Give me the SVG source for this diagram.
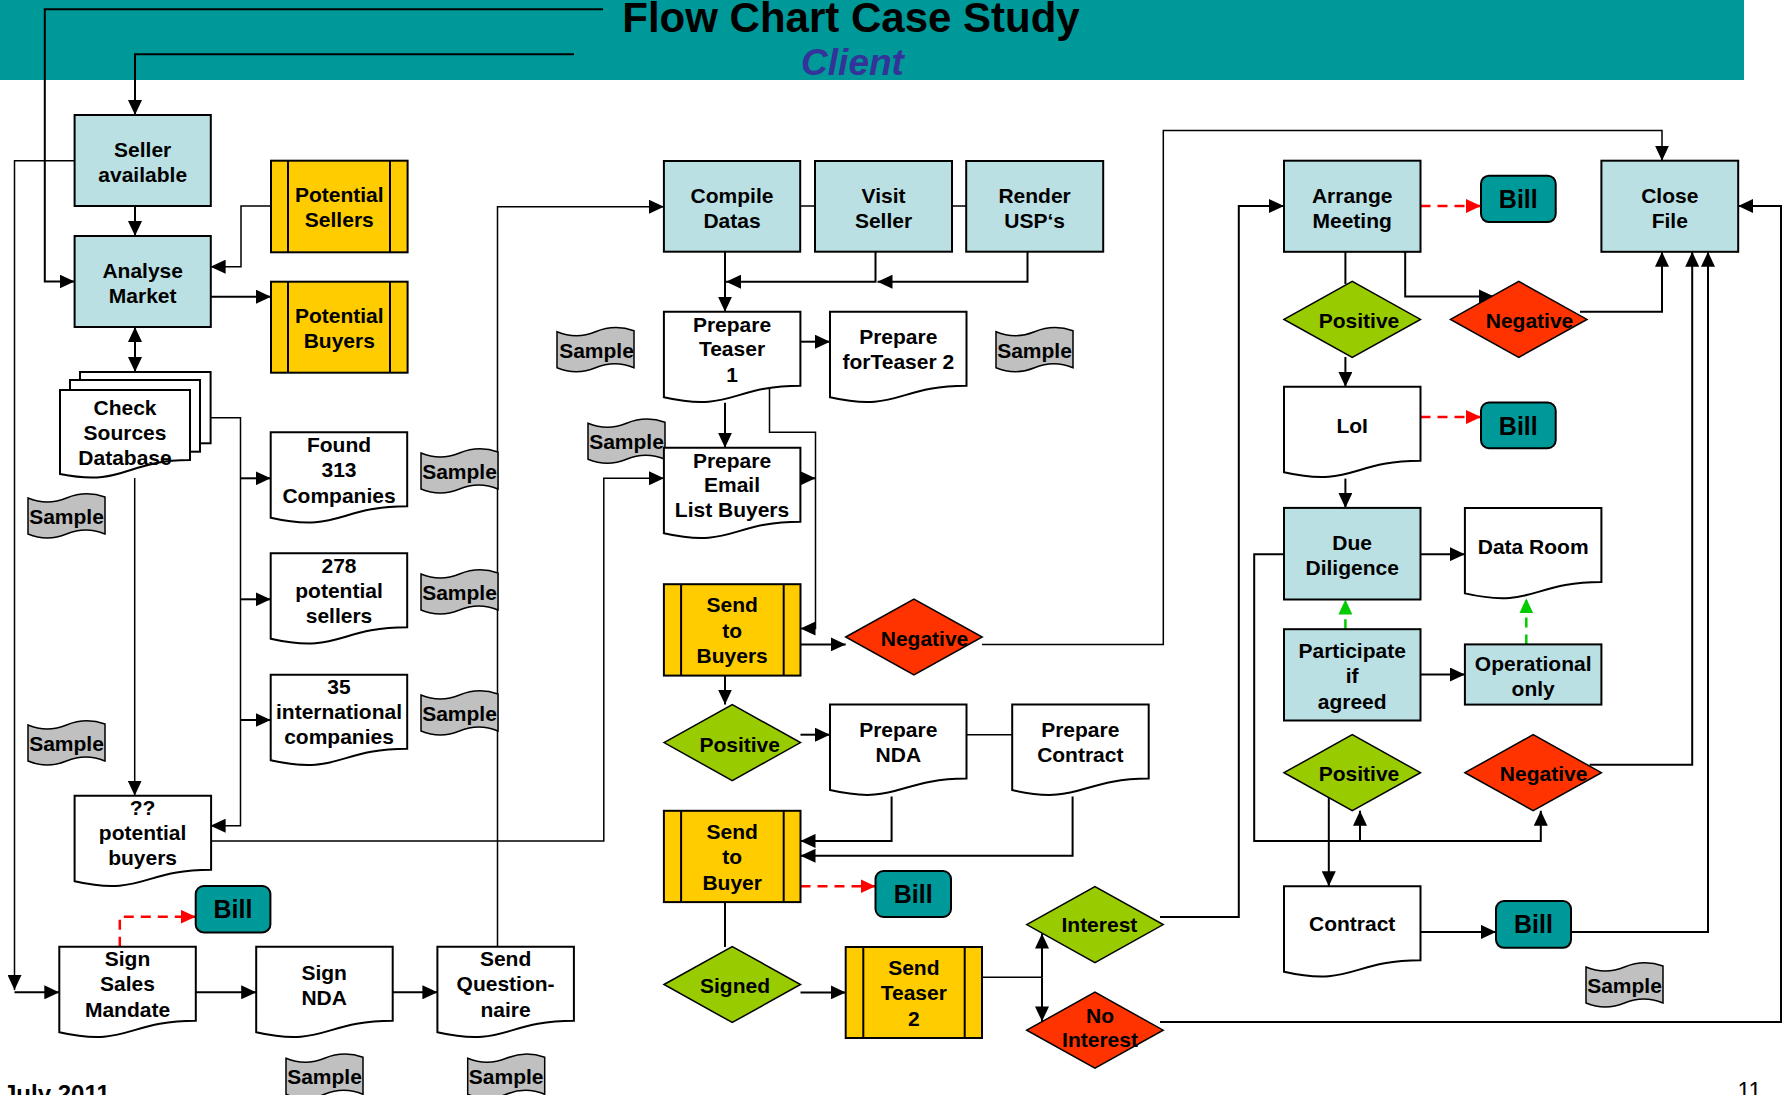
<svg xmlns="http://www.w3.org/2000/svg" width="1783" height="1095" viewBox="0 0 1783 1095">
<style>
.blue{fill:#BBE0E3;stroke:#000;stroke-width:2}
.yel{fill:#FFCC00;stroke:#000;stroke-width:2}
.doc{fill:#fff;stroke:#000;stroke-width:2}
.grn{fill:#99CC00;stroke:#000;stroke-width:1.5}
.red{fill:#FF3300;stroke:#000;stroke-width:1.5}
.bill{fill:#009999;stroke:#000;stroke-width:2}
.tape{fill:#C0C0C0;stroke:#000;stroke-width:1.5}
.ln{fill:none;stroke:#000;stroke-width:2}
text{font-family:"Liberation Sans",Arial,sans-serif;font-weight:bold;font-size:21px;text-anchor:middle;fill:#000}
.bt{font-size:25px}
.c{fill:none;stroke:#000;stroke-width:2}
.c1{fill:none;stroke:#000;stroke-width:1.5}
.cd{fill:none;stroke:#FF0000;stroke-width:2.5;stroke-dasharray:10 7}
.cg{fill:none;stroke:#00CC00;stroke-width:2.5;stroke-dasharray:10 7}
</style>
<defs>
<path id="doc" d="M0,0 H136.5 V74 C68,74 68,101 0,85.5 Z"/>
<path id="tape" d="M0,5 Q19.25,13 38.5,5 T77,4 V41 Q57.75,33 38.5,41 T0,41 Z"/>
<path id="dia" d="M0,38 L68.25,0 L136.5,38 L68.25,76 Z"/>
<marker id="a" viewBox="0 0 15 14" refX="15" refY="7" markerWidth="15" markerHeight="14" markerUnits="userSpaceOnUse" orient="auto-start-reverse"><path d="M0,0 L15,7 L0,14 Z" fill="#000"/></marker>
<marker id="ar" viewBox="0 0 15 14" refX="15" refY="7" markerWidth="15" markerHeight="14" markerUnits="userSpaceOnUse" orient="auto"><path d="M0,0 L15,7 L0,14 Z" fill="#FF0000"/></marker>
<marker id="ag" viewBox="0 0 15 14" refX="15" refY="7" markerWidth="15" markerHeight="14" markerUnits="userSpaceOnUse" orient="auto"><path d="M0,0 L15,7 L0,14 Z" fill="#00CC00"/></marker>
</defs>

<rect width="1783" height="1095" fill="#fff"/>
<g id="header">
<rect x="0" y="0" width="1744" height="80" fill="#009999"/>
<text x="851" y="31.5" style="font-size:42px">Flow Chart Case Study</text>
<text x="852.5" y="75" style="font-size:37px;font-style:italic;fill:#333399">Client</text>
</g>

<g id="connectors">
<path class="c" d="M603,9.3 H44.8 V281.5 H74.6" marker-end="url(#a)"/>
<path class="c" d="M574,54.3 H135 V115" marker-end="url(#a)"/>
<path class="c" d="M135,206 V236" marker-end="url(#a)"/>
<path class="c1" d="M74.6,160.7 H14.5 V990" marker-end="url(#a)"/>
<path class="c" d="M14.5,992.3 H59.3" marker-end="url(#a)"/>
<path class="c1" d="M271,206 H241 V266.7 H210.6" marker-end="url(#a)"/>
<path class="c" d="M210.6,296.7 H271" marker-end="url(#a)"/>
<path class="c" d="M135,327 V372" marker-start="url(#a)" marker-end="url(#a)"/>
<path class="c1" d="M210.6,417.7 H240.5 V825.7 H210.6" marker-end="url(#a)"/>
<path class="c" d="M240.5,478.3 H270.7" marker-end="url(#a)"/>
<path class="c" d="M240.5,599.3 H270.7" marker-end="url(#a)"/>
<path class="c" d="M240.5,720 H270.7" marker-end="url(#a)"/>
<path class="c1" d="M134.7,478 V795.7" marker-end="url(#a)"/>
<path class="c1" d="M210.6,841 H603.8 V478.3 H663.9" marker-end="url(#a)"/>
<path class="c" d="M195.7,992.3 H256.2" marker-end="url(#a)"/>
<path class="c" d="M392.2,992.3 H437.4" marker-end="url(#a)"/>
<path class="c1" d="M497.5,946.7 V206.7 H663.9" marker-end="url(#a)"/>
<path class="cd" d="M119.8,946.7 V916.7 H195.7" marker-end="url(#ar)"/>
<path class="c" d="M725,251.7 V311.7" marker-end="url(#a)"/>
<path class="c" d="M875.5,251.7 V281.7 H726" marker-end="url(#a)"/>
<path class="c" d="M1027.5,251.7 V281.7 H877.5" marker-end="url(#a)"/>
<path class="c1" d="M800.2,206 H815 M952,206 H966.2"/>
<path class="c" d="M800.2,341.7 H830" marker-end="url(#a)"/>
<path class="c" d="M725,402.7 V447.7" marker-end="url(#a)"/>
<path class="c1" d="M769.5,387 V432.3 H815.5 V628.5 H800.5" marker-end="url(#a)"/>
<path class="c" d="M800.2,478.3 H815.5" marker-end="url(#a)"/>
<path class="c" d="M800.5,644.4 H845.7" marker-end="url(#a)"/>
<path class="c1" d="M982,644.4 H1163.3 V130.4 H1662 V160.7" marker-end="url(#a)"/>
<path class="c" d="M725,675.6 V704.6" marker-end="url(#a)"/>
<path class="c" d="M800.5,734.7 H830" marker-end="url(#a)"/>
<path class="c1" d="M966.6,734.7 H1012.2"/>
<path class="c" d="M891.6,796.6 V840.9 H800.5" marker-end="url(#a)"/>
<path class="c" d="M1072.6,796.6 V855.8 H800.5" marker-end="url(#a)"/>
<path class="cd" d="M800.5,886.2 H875.5" marker-end="url(#ar)"/>
<path class="c" d="M725,902.1 V947"/>
<path class="c" d="M800.5,992.4 H845.7" marker-end="url(#a)"/>
<path class="c1" d="M982,977.2 H1042"/>
<path class="c" d="M1042,977.2 V933.6" marker-end="url(#a)"/>
<path class="c" d="M1042,977.2 V1021.4" marker-end="url(#a)"/>
<path class="c" d="M1160,917 H1238.8 V206 H1284" marker-end="url(#a)"/>
<path class="c" d="M1160,1022 H1781 V206 H1738.2" marker-end="url(#a)"/>
<path class="cd" d="M1420.5,206 H1481" marker-end="url(#ar)"/>
<path class="c" d="M1345.4,251.8 V284"/>
<path class="c" d="M1405.2,251.8 V296.4 H1494" marker-end="url(#a)"/>
<path class="c" d="M1580,311.8 H1662 V251.8" marker-end="url(#a)"/>
<path class="c" d="M1345.4,357 V386.8" marker-end="url(#a)"/>
<path class="cd" d="M1420.5,417.1 H1481" marker-end="url(#ar)"/>
<path class="c" d="M1345.4,478.6 V507.9" marker-end="url(#a)"/>
<path class="c" d="M1420.5,554.2 H1464.9" marker-end="url(#a)"/>
<path class="c" d="M1284,554.2 H1254.2 V840.9 H1540.8 V810.8" marker-end="url(#a)"/>
<path class="c" d="M1360,840.9 V810.8" marker-end="url(#a)"/>
<path class="cg" d="M1345.4,629.2 V599.5" marker-end="url(#ag)"/>
<path class="c" d="M1420.5,674.5 H1464.9" marker-end="url(#a)"/>
<path class="cg" d="M1526.3,644.4 V598.4" marker-end="url(#ag)"/>
<path class="c" d="M1589.6,764.8 H1692.2 V251.8" marker-end="url(#a)"/>
<path class="c" d="M1328.8,796.6 V886.2" marker-end="url(#a)"/>
<path class="c" d="M1420.5,931.9 H1496" marker-end="url(#a)"/>
<path class="c" d="M1571,931.9 H1708 V251.8" marker-end="url(#a)"/>
</g>

<g id="samples">
<g id="sample-1"><use href="#tape" class="tape" x="28" y="493"/><text x="66.5" y="524">Sample</text></g>
<g id="sample-2"><use href="#tape" class="tape" x="28" y="720"/><text x="66.5" y="751">Sample</text></g>
<g id="sample-3"><use href="#tape" class="tape" x="421" y="448"/><text x="459.5" y="479">Sample</text></g>
<g id="sample-4"><use href="#tape" class="tape" x="421" y="569"/><text x="459.5" y="600">Sample</text></g>
<g id="sample-5"><use href="#tape" class="tape" x="421" y="690"/><text x="459.5" y="721">Sample</text></g>
<g id="sample-6"><use href="#tape" class="tape" x="557" y="326.7"/><text x="596.5" y="357.7">Sample</text></g>
<g id="sample-7"><use href="#tape" class="tape" x="588" y="418.3"/><text x="626.5" y="449.3">Sample</text></g>
<g id="sample-8"><use href="#tape" class="tape" x="996" y="326.7"/><text x="1034.5" y="357.7">Sample</text></g>
<g id="sample-9"><use href="#tape" class="tape" x="286" y="1053.3"/><text x="324.5" y="1084.3">Sample</text></g>
<g id="sample-10"><use href="#tape" class="tape" x="467.7" y="1053.3"/><text x="506.2" y="1084.3">Sample</text></g>
<g id="sample-11"><use href="#tape" class="tape" x="1586" y="962"/><text x="1624.5" y="993">Sample</text></g>
</g>

<g id="seller-available"><rect class="blue" x="74.6" y="115" width="136.2" height="91"/><text x="142.7" y="156.5">Seller</text><text x="142.7" y="181.5">available</text></g>
<g id="analyse-market"><rect class="blue" x="74.6" y="236" width="136.2" height="91"/><text x="142.7" y="277.5">Analyse</text><text x="142.7" y="302.5">Market</text></g>
<g id="potential-sellers"><rect class="yel" x="271" y="160.7" width="136.6" height="91.6"/><path class="ln" d="M288,160.7 V252.3 M390,160.7 V252.3"/><text x="339.3" y="202">Potential</text><text x="339.3" y="227">Sellers</text></g>
<g id="potential-buyers"><rect class="yel" x="271" y="281.7" width="136.6" height="91"/><path class="ln" d="M288,281.7 V372.7 M390,281.7 V372.7"/><text x="339.3" y="323">Potential</text><text x="339.3" y="348">Buyers</text></g>
<g id="check-sources"><rect class="doc" x="80" y="372" width="130.6" height="71.3"/><rect class="doc" x="70" y="380" width="130" height="71.7"/><path class="doc" d="M60,390 H190 V460 C125,460 125,487 60,474 Z"/><text x="125" y="415">Check</text><text x="125" y="440">Sources</text><text x="125" y="465">Database</text></g>
<g id="found-313"><use href="#doc" class="doc" x="270.7" y="432.3"/><text x="339" y="452">Found</text><text x="339" y="477">313</text><text x="339" y="503">Companies</text></g>
<g id="potential-sellers-278"><use href="#doc" class="doc" x="270.7" y="553.3"/><text x="339" y="573">278</text><text x="339" y="598">potential</text><text x="339" y="623">sellers</text></g>
<g id="international-35"><use href="#doc" class="doc" x="270.7" y="674.7"/><text x="339" y="694">35</text><text x="339" y="719">international</text><text x="339" y="744">companies</text></g>
<g id="potential-buyers-qq"><use href="#doc" class="doc" x="74.6" y="795.7"/><text x="142.6" y="815">??</text><text x="142.6" y="840">potential</text><text x="142.6" y="865">buyers</text></g>
<g id="bill-1"><rect class="bill" x="195.7" y="886" width="74.7" height="46.4" rx="8"/><text class="bt" x="233" y="918.3">Bill</text></g>
<g id="sign-sales-mandate"><use href="#doc" class="doc" x="59.3" y="946.7"/><text x="127.5" y="966">Sign</text><text x="127.5" y="990.5">Sales</text><text x="127.5" y="1016.5">Mandate</text></g>
<g id="sign-nda"><use href="#doc" class="doc" x="256.2" y="946.7"/><text x="324.2" y="980">Sign</text><text x="324.2" y="1004.5">NDA</text></g>
<g id="send-questionnaire"><use href="#doc" class="doc" x="437.4" y="946.7"/><text x="505.6" y="966">Send</text><text x="505.6" y="990.5">Question-</text><text x="505.6" y="1016.5">naire</text></g>

<g id="compile-datas"><rect class="blue" x="663.9" y="161" width="136.3" height="90.7"/><text x="732" y="202.5">Compile</text><text x="732" y="227.5">Datas</text></g>
<g id="visit-seller"><rect class="blue" x="815" y="161" width="137" height="90.7"/><text x="883.5" y="202.5">Visit</text><text x="883.5" y="227.5">Seller</text></g>
<g id="render-usps"><rect class="blue" x="966.2" y="161" width="137" height="90.7"/><text x="1034.6" y="202.5">Render</text><text x="1034.6" y="227.5">USP‘s</text></g>
<g id="prepare-teaser-1"><use href="#doc" class="doc" x="663.9" y="311.7"/><text x="732" y="331.7">Prepare</text><text x="732" y="356">Teaser</text><text x="732" y="381.7">1</text></g>
<g id="prepare-forteaser-2"><use href="#doc" class="doc" x="830" y="311.7"/><text x="898.3" y="344">Prepare</text><text x="898.3" y="369">forTeaser 2</text></g>
<g id="prepare-email-list"><use href="#doc" class="doc" x="663.9" y="447.7"/><text x="732" y="467.5">Prepare</text><text x="732" y="492">Email</text><text x="732" y="517.3">List Buyers</text></g>
<g id="send-to-buyers"><rect class="yel" x="663.9" y="584.2" width="136.6" height="91.4"/><path class="ln" d="M681.1,584.2 V675.6 M783.7,584.2 V675.6"/><text x="732.2" y="612">Send</text><text x="732.2" y="637.5">to</text><text x="732.2" y="663">Buyers</text></g>
<g id="negative-1"><use href="#dia" class="red" x="845.7" y="599"/><text x="924.5" y="645.5">Negative</text></g>
<g id="positive-1"><use href="#dia" class="grn" x="664" y="704.6"/><text x="739.7" y="751.5">Positive</text></g>
<g id="prepare-nda"><use href="#doc" class="doc" x="830" y="704.6"/><text x="898.3" y="737">Prepare</text><text x="898.3" y="762">NDA</text></g>
<g id="prepare-contract"><use href="#doc" class="doc" x="1012.2" y="704.6"/><text x="1080.3" y="737">Prepare</text><text x="1080.3" y="762">Contract</text></g>
<g id="send-to-buyer"><rect class="yel" x="663.9" y="810.8" width="136.6" height="91.3"/><path class="ln" d="M681.1,810.8 V902.1 M783.7,810.8 V902.1"/><text x="732.2" y="839">Send</text><text x="732.2" y="864">to</text><text x="732.2" y="889.7">Buyer</text></g>
<g id="bill-2"><rect class="bill" x="875.5" y="871" width="75.5" height="46" rx="8"/><text class="bt" x="913.2" y="903">Bill</text></g>
<g id="signed"><use href="#dia" class="grn" x="664" y="946.5"/><text x="735" y="993">Signed</text></g>
<g id="send-teaser-2"><rect class="yel" x="845.7" y="947" width="136.3" height="91"/><path class="ln" d="M863.3,947 V1038 M964.7,947 V1038"/><text x="913.8" y="974.7">Send</text><text x="913.8" y="1000.2">Teaser</text><text x="913.8" y="1025.7">2</text></g>
<g id="interest"><use href="#dia" class="grn" x="1026.7" y="886.6"/><text x="1099.4" y="932.2">Interest</text></g>
<g id="no-interest"><use href="#dia" class="red" x="1026.7" y="992.2"/><text x="1100" y="1023">No</text><text x="1100" y="1047">Interest</text></g>

<g id="arrange-meeting"><rect class="blue" x="1284" y="160.7" width="136.5" height="91.1"/><text x="1352.2" y="202.7">Arrange</text><text x="1352.2" y="227.7">Meeting</text></g>
<g id="bill-3"><rect class="bill" x="1481" y="175.7" width="74.7" height="46.4" rx="8"/><text class="bt" x="1518.3" y="208">Bill</text></g>
<g id="close-file"><rect class="blue" x="1601.4" y="160.7" width="136.8" height="91.1"/><text x="1669.8" y="202.7">Close</text><text x="1669.8" y="227.7">File</text></g>
<g id="positive-2"><use href="#dia" class="grn" x="1284" y="281.4"/><text x="1359" y="327.5">Positive</text></g>
<g id="negative-2"><use href="#dia" class="red" x="1450.5" y="281.4"/><text x="1529.5" y="327.5">Negative</text></g>
<g id="loi"><use href="#doc" class="doc" x="1284" y="386.8"/><text x="1352.2" y="433">LoI</text></g>
<g id="bill-4"><rect class="bill" x="1481" y="402.5" width="74.7" height="45.7" rx="8"/><text class="bt" x="1518.3" y="434.5">Bill</text></g>
<g id="due-diligence"><rect class="blue" x="1284" y="507.9" width="136.5" height="91.6"/><text x="1352.2" y="550">Due</text><text x="1352.2" y="575.4">Diligence</text></g>
<g id="data-room"><use href="#doc" class="doc" x="1464.9" y="507.9"/><text x="1533.2" y="553.6">Data Room</text></g>
<g id="participate-if-agreed"><rect class="blue" x="1284" y="629.2" width="136.5" height="91.3"/><text x="1352.2" y="657.5">Participate</text><text x="1352.2" y="683">if</text><text x="1352.2" y="709">agreed</text></g>
<g id="operational-only"><rect class="blue" x="1464.9" y="644.4" width="136.5" height="60.2"/><text x="1533.2" y="671">Operational</text><text x="1533.2" y="696">only</text></g>
<g id="positive-3"><use href="#dia" class="grn" x="1284" y="734.7"/><text x="1359" y="781">Positive</text></g>
<g id="negative-3"><use href="#dia" class="red" x="1464.9" y="734.7"/><text x="1543.6" y="781">Negative</text></g>
<g id="contract"><use href="#doc" class="doc" x="1284" y="886.2"/><text x="1352.2" y="931.2">Contract</text></g>
<g id="bill-5"><rect class="bill" x="1496" y="901" width="75" height="46.8" rx="8"/><text class="bt" x="1533.5" y="933.3">Bill</text></g>

<g id="footer">
<text x="3" y="1102" style="font-size:24px;text-anchor:start">July 2011</text>
<text x="1737.4" y="1099" style="font-size:23px;font-weight:normal;text-anchor:start">11</text>
</g>
</svg>
